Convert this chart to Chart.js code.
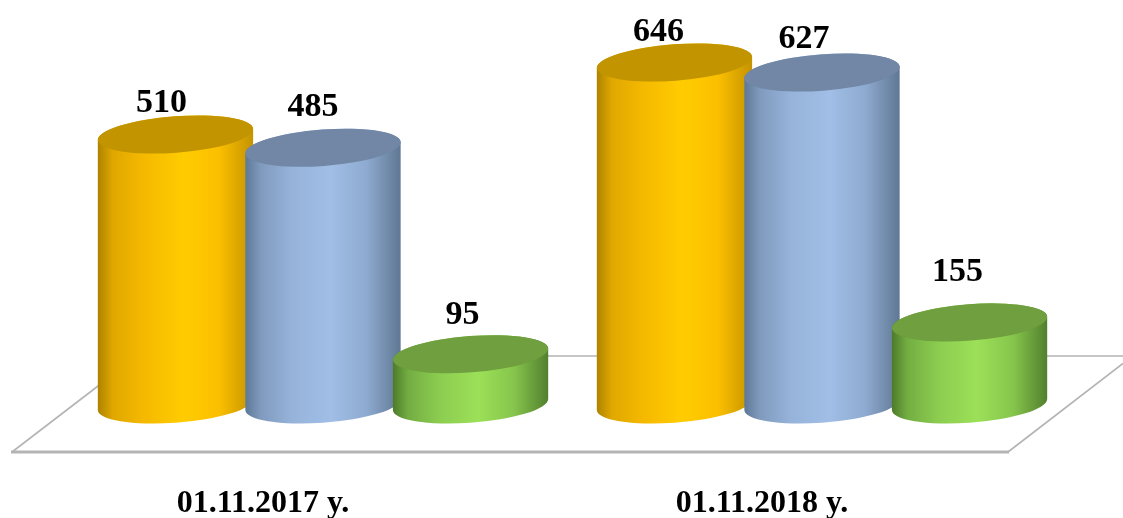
<!DOCTYPE html>
<html>
<head>
<meta charset="utf-8">
<style>
  html, body { margin: 0; padding: 0; background: #fff; }
  #box { width: 1123px; height: 518px; }
</style>
<script src="https://cdn.jsdelivr.net/npm/chart.js@4/dist/chart.umd.js"></script>
</head>
<body>
<div id="box"><canvas id="myChart"></canvas></div>
<script>
const categories = ["01.11.2017 y.", "01.11.2018 y."];
const yellowValues = [510, 646];
const blueValues = [485, 627];
const greenValues = [95, 155];

// label nudges per series and category, the labels do not sit centered over the cylinders
const labelShiftX = [[-14, -16], [-10, -18], [-8, -12]];
const labelShiftY = [[-31, -30], [-41, -33], [-39, -50]];

// gradient stops left to right, last colour is the top face
const shades = [
  { stops: ["#ad8200", "#e0a800", "#f5b900", "#ffcc00", "#fbbf00", "#c49300"], top: "#c29400" },
  { stops: ["#5d7896", "#7f9abd", "#97b3da", "#a0bee6", "#8eaad0", "#5f7792"], top: "#7187a5" },
  { stops: ["#4d7a2a", "#73ad42", "#8ccd50", "#9ce058", "#86c54c", "#527f2e"], top: "#6f9f3e" }
];
const stopAt = [0, 0.1, 0.3, 0.55, 0.78, 1];

const tilt = -0.075;
const capHeight = 18.2;

function cylinder(ctx, bar, shade) {
  const cx = bar.x, rx = bar.width / 2 + 0.4;
  const t0 = Math.atan(-(capHeight / rx) * Math.tan(tilt));

  const grad = ctx.createLinearGradient(cx - rx, 0, cx + rx, 0);
  shade.stops.forEach((c, i) => grad.addColorStop(stopAt[i], c));

  ctx.beginPath();
  ctx.ellipse(cx, bar.base, rx, capHeight, tilt, t0, t0 + Math.PI);
  ctx.ellipse(cx, bar.y, rx, capHeight, tilt, t0 + Math.PI, t0 + 2 * Math.PI);
  ctx.closePath();
  ctx.fillStyle = grad;
  ctx.fill();

  ctx.beginPath();
  ctx.ellipse(cx, bar.y, rx, capHeight, tilt, 0, 2 * Math.PI);
  ctx.fillStyle = shade.top;
  ctx.fill();
}

const cylinderPlugin = {
  id: "cylinders",
  beforeDatasetsDraw(chart) {
    const ctx = chart.ctx;
    const bottom = chart.chartArea.bottom;

    // floor of the 3d chart
    ctx.save();
    ctx.strokeStyle = "#b4b4b4";
    ctx.lineWidth = 1.6;
    ctx.beginPath();
    ctx.moveTo(12, bottom + 47.5);
    ctx.lineTo(100, bottom - 20);
    ctx.moveTo(1008, bottom + 47.5);
    ctx.lineTo(1123, bottom - 41);
    ctx.moveTo(100, bottom - 48.5);
    ctx.lineTo(1123, bottom - 48.5);
    ctx.stroke();
    ctx.lineWidth = 3;
    ctx.beginPath();
    ctx.moveTo(11, bottom + 47.5);
    ctx.lineTo(1009, bottom + 47.5);
    ctx.stroke();

    // later series sit in front, so paint them in dataset order
    chart.data.datasets.forEach((ds, i) => {
      chart.getDatasetMeta(i).data.forEach(bar => cylinder(ctx, bar, shades[i]));
    });

    ctx.fillStyle = "#000";
    ctx.font = "bold 34px 'Liberation Serif'";
    ctx.textAlign = "center";
    ctx.textBaseline = "middle";
    chart.data.datasets.forEach((ds, i) => {
      chart.getDatasetMeta(i).data.forEach((bar, j) => {
        ctx.fillText(ds.data[j], bar.x + labelShiftX[i][j], bar.y + labelShiftY[i][j]);
      });
    });
    ctx.restore();
    return false;
  }
};

new Chart(document.getElementById("myChart"), {
  type: "bar",
  data: {
    labels: categories,
    datasets: [
      { label: "A", data: yellowValues, backgroundColor: "#ffc000" },
      { label: "B", data: blueValues, backgroundColor: "#9dbbe3" },
      { label: "C", data: greenValues, backgroundColor: "#92d050" }
    ]
  },
  plugins: [cylinderPlugin],
  options: {
    responsive: true,
    maintainAspectRatio: false,
    animation: false,
    categoryPercentage: 0.887,
    barPercentage: 1.05,
    layout: { padding: { left: 73.5, right: 51.5, top: 33.9, bottom: 0 } },
    plugins: { legend: { display: false }, tooltip: { enabled: false } },
    scales: {
      y: { display: false, min: 0, max: 700 },
      x: {
        grid: { display: false },
        border: { display: false },
        afterFit(scale) { scale.height = 113.5; },
        ticks: {
          color: "#000",
          padding: 72,
          labelOffset: -60,
          maxRotation: 0,
          autoSkip: false,
          font: { family: "'Liberation Serif'", size: 32, weight: "bold" }
        }
      }
    }
  }
});
</script>
</body>
</html>
